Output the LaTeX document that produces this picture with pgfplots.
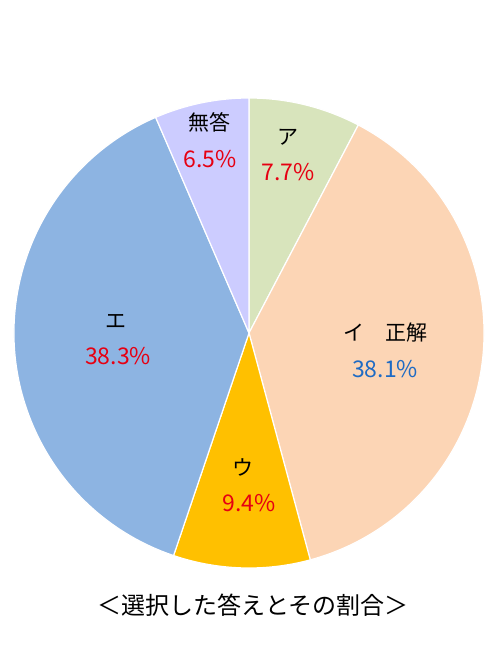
\documentclass[border=0pt]{standalone}
\usepackage{pgfplots}
\pgfplotsset{compat=1.18}
\usepackage{fontspec}
\setmainfont{Noto Sans CJK JP}

\definecolor{sliceA}{HTML}{D8E4BC}
\definecolor{sliceB}{HTML}{FCD5B5}
\definecolor{sliceC}{HTML}{FFC000}
\definecolor{sliceD}{HTML}{8DB4E2}
\definecolor{sliceE}{HTML}{CCCCFF}
\definecolor{pctred}{HTML}{E60012}
\definecolor{pctblue}{HTML}{1F6BC4}

% shares in percent, clockwise from 12 o'clock
\def\vA{7.7}  % ア
\def\vB{38.1} % イ 正解
\def\vC{9.4}  % ウ
\def\vD{38.3} % エ
\def\vE{6.5}  % 無答

\pgfmathsetmacro\aA{90}
\pgfmathsetmacro\aB{\aA-\vA*3.6}
\pgfmathsetmacro\aC{\aB-\vB*3.6}
\pgfmathsetmacro\aD{\aC-\vC*3.6}
\pgfmathsetmacro\aE{\aD-\vD*3.6}
\pgfmathsetmacro\aF{\aE-\vE*3.6}

\def\R{117.5pt}
\newcommand\slice[3]{%
  \fill[#3, draw=white, line width=0.6pt] (axis cs:0,0) -- ++(#1:\R)
    arc[start angle=#1, end angle=#2, radius=\R] -- cycle;}

\begin{document}
\begin{tikzpicture}
\useasboundingbox (-124.5pt,-163.5pt) rectangle (125.5pt,166.5pt);
\begin{axis}[
  x=117.5pt, y=117.5pt,
  xmin=-1, xmax=1, ymin=-1, ymax=1,
  hide axis, clip=false,
  at={(0,0)}, anchor=origin,
]
  \slice{\aA}{\aB}{sliceA}
  \slice{\aB}{\aC}{sliceB}
  \slice{\aC}{\aD}{sliceC}
  \slice{\aD}{\aE}{sliceD}
  \slice{\aE}{\aF}{sliceE}

  \begin{scope}[font=\fontsize{10.5pt}{12pt}\selectfont]
    \node at (axis cs:0.166,0.834) {ア};
    \node at (axis cs:0.579,0.0) {イ\hspace{1em}正解};
    \node at (axis cs:-0.026,-0.574) {ウ};
    \node at (axis cs:-0.566,0.047) {エ};
    \node at (axis cs:-0.166,0.898) {無答};
  \end{scope}
  \begin{scope}[font=\fontsize{11.5pt}{13pt}\selectfont]
    \node[pctred] at (axis cs:0.166,0.685) {\vA\%};
    \node[pctblue] at (axis cs:0.579,-0.153) {\vB\%};
    \node[pctred] at (axis cs:0.0,-0.723) {\vC\%};
    \node[pctred] at (axis cs:-0.557,-0.098) {\vD\%};
    \node[pctred] at (axis cs:-0.166,0.740) {\vE\%};
  \end{scope}
\end{axis}
\node[font=\fontsize{12pt}{14pt}\selectfont] at (2pt,-136pt) {＜選択した答えとその割合＞};
\end{tikzpicture}
\end{document}
